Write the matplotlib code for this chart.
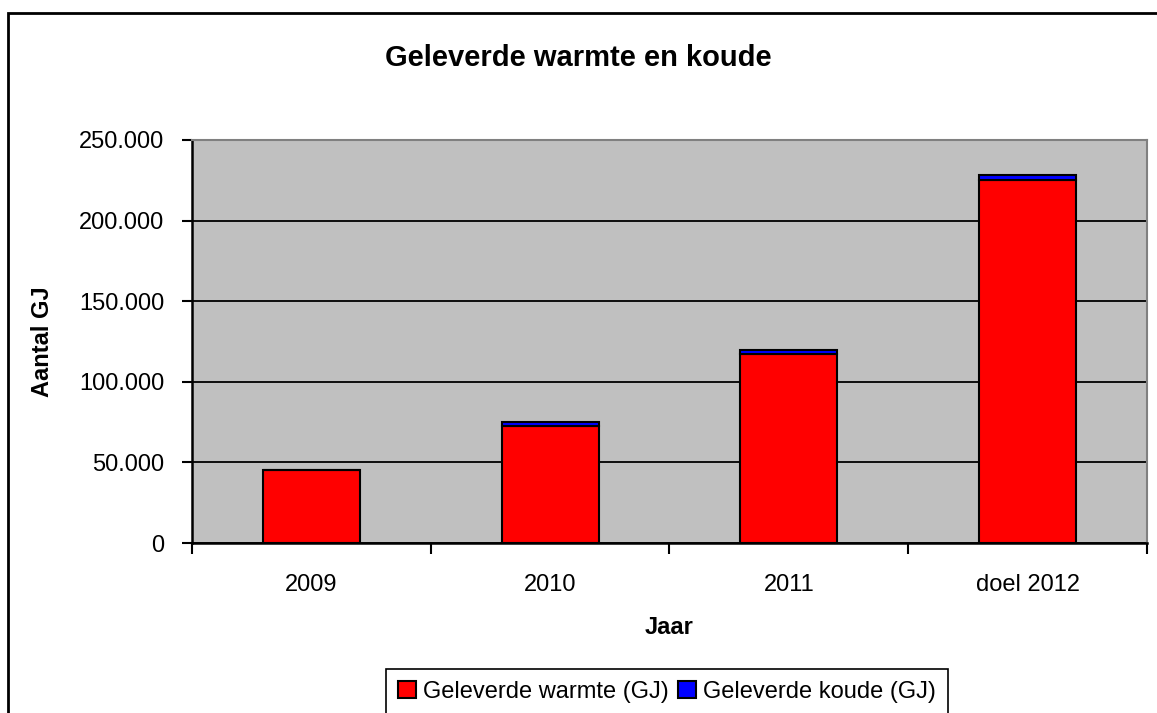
import matplotlib
matplotlib.use("Agg")
import matplotlib.pyplot as plt
from matplotlib.ticker import FuncFormatter, FixedLocator, MultipleLocator
from matplotlib.patches import Rectangle

categories = ["2009", "2010", "2011", "doel 2012"]
warmte = [45000, 72500, 117000, 225000]
koude = [0, 2500, 3000, 3500]
series_labels = ["Geleverde warmte (GJ)", "Geleverde koude (GJ)"]

plt.rcParams['font.family'] = ['Liberation Sans', 'DejaVu Sans']

W, H = 1157, 713
fig = plt.figure(figsize=(W / 100, H / 100), dpi=100)
ax = fig.add_axes([192 / W, 1 - 543 / H, (1147 - 192) / W, (543 - 140) / H])
ax.set_facecolor('#C0C0C0')

x = list(range(len(categories)))
bw = 0.406
b1 = ax.bar(x, warmte, width=bw, color='#FF0000', edgecolor='black', linewidth=1.5,
            label=series_labels[0], zorder=3)
b2 = ax.bar(x, koude, width=bw, bottom=warmte, color='#0000FF', edgecolor='black',
            linewidth=1.5, label=series_labels[1], zorder=3)

ax.set_xlim(-0.5, len(categories) - 0.5)
ax.set_ylim(0, 250000)
ax.yaxis.set_major_locator(MultipleLocator(50000))
ax.yaxis.set_major_formatter(FuncFormatter(lambda v, p: f"{int(v):,}".replace(",", ".")))
ax.grid(axis='y', color='black', linewidth=1.3, zorder=1)
ax.set_axisbelow(True)

ax.set_xticks(x)
ax.set_xticklabels(categories)
ax.tick_params(axis='x', which='major', length=0, pad=22, labelsize=17)
ax.xaxis.set_minor_locator(FixedLocator([i - 0.5 for i in range(len(categories) + 1)]))
ax.tick_params(axis='x', which='minor', length=8, width=1.5, direction='out', color='black')
ax.tick_params(axis='y', length=7, width=1.5, direction='out', labelsize=17, pad=13)

for s in ['top', 'right']:
    ax.spines[s].set_color('#808080')
    ax.spines[s].set_linewidth(1.5)
for s in ['left', 'bottom']:
    ax.spines[s].set_color('black')
    ax.spines[s].set_linewidth(1.8)

ax.set_xlabel("Jaar", fontsize=17, fontweight='bold', labelpad=15)
ax.set_ylabel("Aantal GJ", fontsize=17, fontweight='bold', labelpad=18)
fig.text(578 / W, 1 - 58 / H, "Geleverde warmte en koude", fontsize=21,
         fontweight='bold', ha='center', va='center')

leg = fig.legend(handles=[b1, b2], labels=series_labels, loc='upper center',
                 bbox_to_anchor=(667 / W, 1 - 669 / H), ncol=2, fontsize=17,
                 frameon=True, fancybox=False, edgecolor='black', framealpha=1,
                 handlelength=0.75, handleheight=0.75, handletextpad=0.3,
                 columnspacing=0.4, borderpad=0.5, borderaxespad=0)
leg.get_frame().set_linewidth(1.2)

fig.patches.append(Rectangle((8 / W, -0.1), 1.2, 1 - 13 / H + 0.1, transform=fig.transFigure,
                             fill=False, edgecolor='black', linewidth=2, zorder=0))

fig.savefig("out.png", dpi=100)
